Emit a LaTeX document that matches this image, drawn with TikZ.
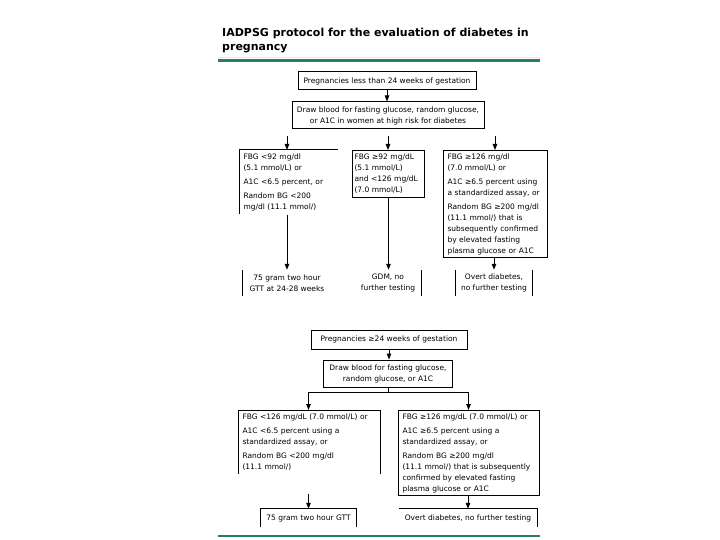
\documentclass[tikz,border=0pt]{standalone}
\usepackage{fontspec}
\setmainfont{DejaVu Sans}
\usetikzlibrary{arrows.meta}
\definecolor{grn}{RGB}{38,128,96}
\definecolor{faint}{RGB}{215,240,240}
\newcommand{\fsmall}{\fontsize{7.5}{11}\selectfont}
\begin{document}
\begin{tikzpicture}[x=1pt,y=-1pt,
  edge/.style={line width=1pt},
  box/.style={draw, line width=1pt, inner sep=0pt, font=\fsmall, align=center},
  cond/.style={anchor=north west, inner xsep=4pt, inner ysep=3pt, align=left, font=\fsmall, line width=1pt},
  res/.style={inner sep=0pt, font=\fsmall, align=center},
  arr/.style={line width=1pt, -{Triangle[length=6pt,width=4.5pt]}}]
\useasboundingbox (0,0) rectangle (720,540);

% title and rules
\node[anchor=north west, inner sep=0pt, align=left, font=\fontsize{11}{14}\selectfont\bfseries] (title) at (222,28) {IADPSG protocol for the evaluation of diabetes in\\pregnancy};
\draw[faint, line width=0.8pt] (218,57) -- (540,57);
\draw[grn, line width=3pt] (218,61) -- (540,61);
\draw[grn, line width=2pt] (218,536) -- (540,536);

% ---------- upper chart ----------
\node[box, minimum width=178pt, minimum height=18pt] (p1) at (387,81) {Pregnancies less than 24 weeks of gestation};
\node[box, minimum width=192pt, minimum height=27pt] (d1) at (388,115.5) {Draw blood for fasting glucose, random glucose,\\or A1C in women at high risk for diabetes};
\draw[arr] (p1.south) -- (p1.south |- d1.north);

\node[cond, text width=90pt, minimum height=63pt] (c1) at (239,150) {FBG <92 mg/dl\\(5.1 mmol/L) or\\[3pt]A1C <6.5 percent, or\\[3pt]Random BG <200\\mg/dl (11.1 mmol/)};
\draw[edge] (c1.south west) -- (c1.north west) -- (c1.north east);
\node[cond, draw, text width=68pt, inner xsep=2pt, minimum height=47pt] (c2) at (352,150) {FBG ≥92 mg/dL\\(5.1 mmol/L)\\and <126 mg/dL\\(7.0 mmol/L)};
\node[cond, draw, text width=96pt, minimum height=106pt] (c3) at (443,150) {FBG ≥126 mg/dl\\(7.0 mmol/L) or\\[3pt]A1C ≥6.5 percent using\\a standardized assay, or\\[3pt]Random BG ≥200 mg/dl\\(11.1 mmol/) that is\\subsequently confirmed\\by elevated fasting\\plasma glucose or A1C};

\coordinate (ta) at (287,136);
\coordinate (tb) at (388,136);
\coordinate (tc) at (495,136);
\draw[arr] (ta) -- (ta |- c1.north);
\draw[arr] (tb) -- (tb |- c2.north);
\draw[arr] (tc) -- (tc |- c3.north);

\node[res, minimum width=88pt, minimum height=26pt] (r1) at (287,283) {75 gram two hour\\GTT at 24-28 weeks};
\draw[edge] (r1.north west) -- (r1.south west);
\node[res, minimum width=66pt, minimum height=26pt] (r2) at (388,283) {GDM, no\\further testing};
\draw[edge] (r2.north east) -- (r2.south east);
\node[res, minimum width=76pt, minimum height=26pt] (r3) at (494,283) {Overt diabetes,\\no further testing};
\draw[edge] (r3.north west) -- (r3.south west);
\draw[edge] (r3.north east) -- (r3.south east);

\coordinate (ca) at (287,215);
\draw[arr] (ca) -- (ca |- r1.north);
\draw[arr] (c2.south) -- (c2.south |- r2.north);
\draw[arr] (c3.south -| r3.north) -- (r3.north);

% ---------- lower chart ----------
\node[box, minimum width=156pt, minimum height=19pt] (p2) at (389,339.5) {Pregnancies ≥24 weeks of gestation};
\node[box, minimum width=129pt, minimum height=27pt] (d2) at (388,373.5) {Draw blood for fasting glucose,\\random glucose, or A1C};
\draw[arr] (p2.south) -- (p2.south |- d2.north);

\node[cond, text width=133pt, minimum height=63pt] (c4) at (238,410) {FBG <126 mg/dL (7.0 mmol/L) or\\[3pt]A1C <6.5 percent using a\\standardized assay, or\\[3pt]Random BG <200 mg/dl\\(11.1 mmol/)};
\draw[edge] (c4.south west) -- (c4.north west) -- (c4.north east) -- (c4.south east);
\node[cond, draw, text width=133pt, minimum height=82pt] (c5) at (398,410) {FBG ≥126 mg/dL (7.0 mmol/L) or\\[3pt]A1C ≥6.5 percent using a\\standardized assay, or\\[3pt]Random BG ≥200 mg/dl\\(11.1 mmol/) that is subsequently\\confirmed by elevated fasting\\plasma glucose or A1C};

\coordinate (j) at (388,392);
\coordinate (jl) at (308.5,392);
\coordinate (jr) at (468.5,392);
\draw[edge] (d2.south) -- (j);
\draw[edge] (jl) -- (jr);
\draw[arr] (jl) -- (jl |- c4.north);
\draw[arr] (jr) -- (jr |- c5.north);

\node[res, minimum width=96pt, minimum height=18pt] (r4) at (308.5,518) {75 gram two hour GTT};
\draw[edge] (r4.south west) -- (r4.north west) -- (r4.north east) -- (r4.south east);
\node[res, minimum width=138pt, minimum height=18pt] (r5) at (468,518) {Overt diabetes, no further testing};
\draw[edge] (r5.north west) -- (r5.north east) -- (r5.south east);

\coordinate (cb) at (308.5,494);
\draw[arr] (cb) -- (cb |- r4.north);
\draw[arr] (c5.south -| r5.north) -- (r5.north);
\end{tikzpicture}
\end{document}
